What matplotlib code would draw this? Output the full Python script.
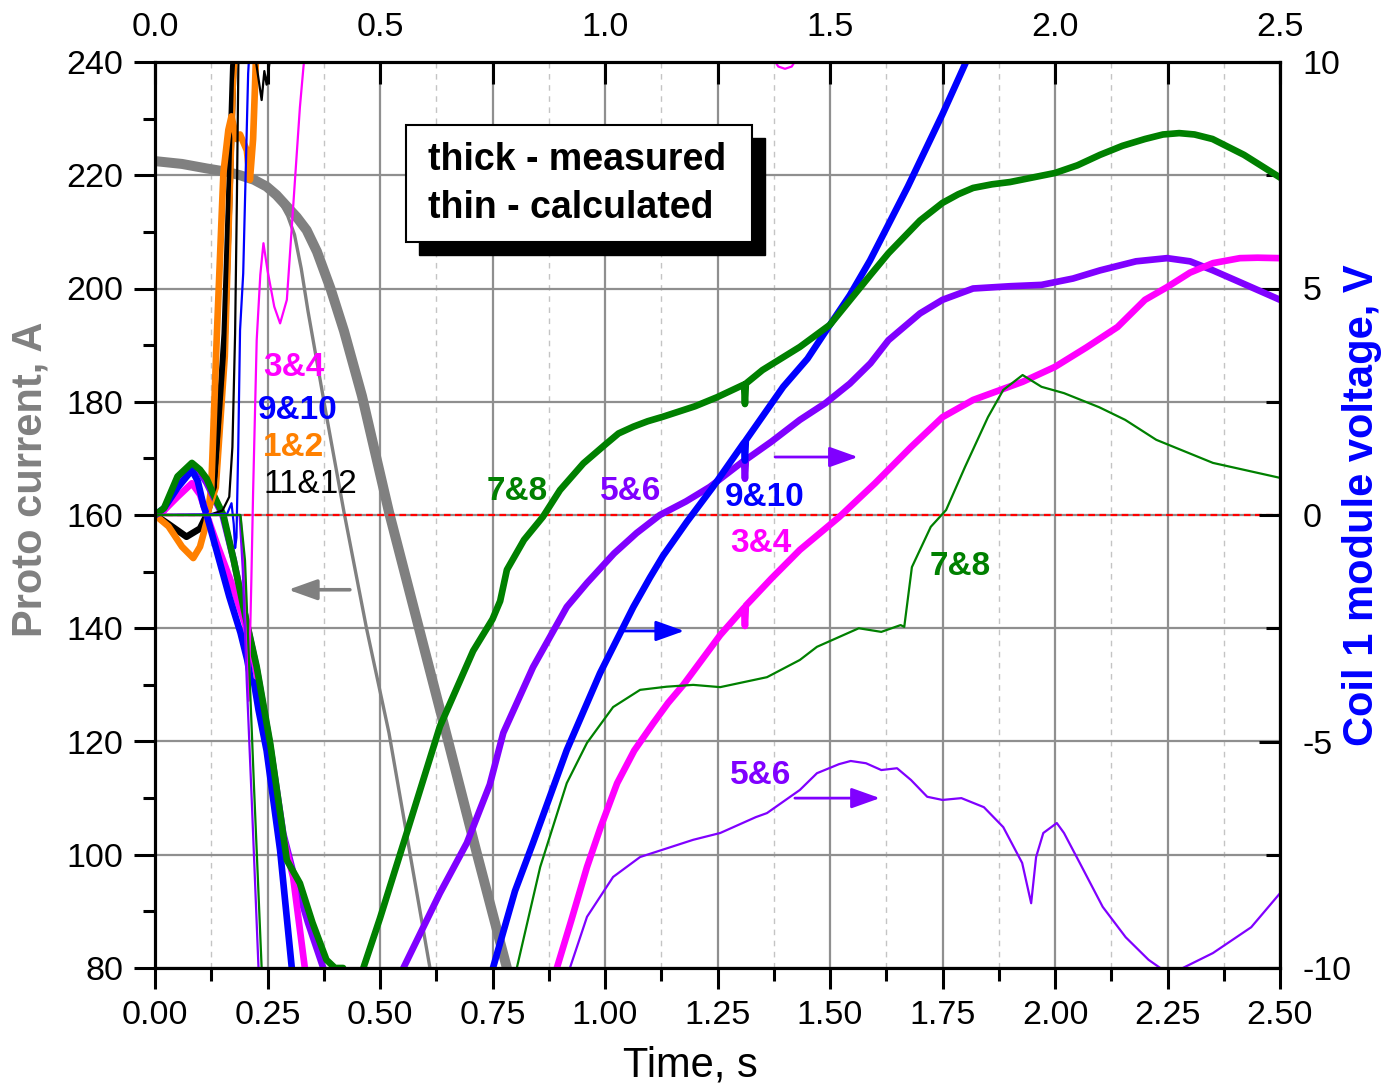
import matplotlib
matplotlib.use('Agg')
import matplotlib.pyplot as plt
from matplotlib.ticker import MultipleLocator, FormatStrFormatter
from matplotlib.patches import Rectangle

plt.rcParams['font.family'] = ['Liberation Sans', 'DejaVu Sans']
plt.rcParams['axes.unicode_minus'] = False

# proto current, A (left axis)
t_cur_meas = [0.0, 0.06, 0.115, 0.16, 0.189, 0.22, 0.248, 0.27, 0.293, 0.315, 0.337, 0.36, 0.39, 0.42,
              0.46, 0.52, 0.585, 0.65, 0.716, 0.782, 0.8]
cur_meas = [222.5, 222.0, 221.2, 220.6, 220.0, 219.2, 218.0, 216.5, 214.5, 212.6, 210.3, 206.5, 200.0, 192.5,
            181.0, 160.5, 140.5, 120.5, 100.0, 80.0, 74.0]
t_cur_calc = [0.0, 0.1, 0.2, 0.25, 0.28, 0.295, 0.31, 0.325, 0.34, 0.38, 0.42, 0.47, 0.52, 0.566, 0.611, 0.63]
cur_calc = [222.5, 221.4, 219.7, 217.8, 215.0, 212.8, 209.5, 203.5, 196.0, 178.0, 160.5, 140.0, 121.5, 100.5,
            80.0, 72.0]

# coil 1 module voltages, V (right axis) - measured
t_v12_meas = [0.0, 0.03, 0.06, 0.085, 0.1, 0.115, 0.125, 0.137, 0.152, 0.163, 0.17, 0.181, 0.189, 0.204,
              0.211, 0.218, 0.222, 0.226]
v12_meas = [0.0, -0.25, -0.7, -0.95, -0.7, -0.15, 0.6, 3.86, 7.55, 8.5, 8.8, 8.3, 8.4, 8.05,
            7.4, 8.3, 9.4, 10.6]

t_v1112_meas = [0.0, 0.03, 0.07, 0.1, 0.115, 0.13, 0.145, 0.155, 0.165, 0.174, 0.18]
v1112_meas = [0.0, -0.2, -0.48, -0.3, 0.0, 0.5, 2.5, 4.0, 7.0, 9.9, 10.6]

t_v34_meas = [0.0, 0.02, 0.05, 0.082, 0.1, 0.115, 0.14, 0.17, 0.2, 0.23, 0.26, 0.28, 0.307, 0.333, 0.35,
              0.87, 0.893, 0.925, 0.96, 0.99, 1.027, 1.065, 1.107, 1.14, 1.174, 1.215, 1.256, 1.309, 1.311,
              1.313, 1.37, 1.433, 1.521, 1.6, 1.68, 1.75, 1.818, 1.928, 2.0, 2.07, 2.139, 2.2, 2.249,
              2.3, 2.351, 2.411, 2.45, 2.5]
v34_meas = [0.0, 0.1, 0.4, 0.7, 0.45, 0.0, -0.7, -1.5, -2.4, -3.7, -5.4, -6.9, -8.0, -10.0, -10.8,
            -10.6, -10.0, -8.95, -7.77, -6.9, -5.92, -5.2, -4.6, -4.15, -3.75, -3.2, -2.65, -2.05, -2.45,
            -2.0, -1.4, -0.77, -0.04, 0.7, 1.5, 2.16, 2.54, 2.94, 3.27, 3.7, 4.15, 4.75, 5.03,
            5.35, 5.56, 5.67, 5.68, 5.67]

t_v910_meas = [0.0, 0.02, 0.05, 0.082, 0.095, 0.108, 0.115, 0.14, 0.165, 0.19, 0.205, 0.213, 0.22, 0.23,
               0.248, 0.278, 0.304, 0.32, 0.735, 0.751, 0.8, 0.84, 0.915, 0.989, 1.063, 1.1, 1.129, 1.182,
               1.24, 1.309, 1.311, 1.313, 1.396, 1.45, 1.5, 1.544, 1.589, 1.673, 1.75, 1.8, 1.82]
v910_meas = [0.0, 0.15, 0.6, 0.99, 0.75, 0.2, 0.0, -0.9, -1.8, -2.6, -3.2, -3.65, -3.7, -4.3,
             -5.2, -7.4, -10.0, -10.8, -10.6, -10.0, -8.3, -7.24, -5.19, -3.49, -2.03, -1.38, -0.9, -0.15,
             0.62, 1.6, 1.2, 1.65, 2.83, 3.45, 4.2, 4.85, 5.62, 7.25, 8.85, 9.95, 10.4]

t_v56_meas = [0.0, 0.02, 0.05, 0.082, 0.1, 0.115, 0.13, 0.15, 0.175, 0.2, 0.226, 0.256, 0.285, 0.31, 0.34,
              0.374, 0.39, 0.53, 0.552, 0.633, 0.693, 0.744, 0.774, 0.84, 0.915, 0.96, 1.02, 1.07, 1.122,
              1.18, 1.233, 1.309, 1.311, 1.313, 1.37, 1.433, 1.49, 1.544, 1.59, 1.63, 1.7, 1.75, 1.818,
              1.9, 1.97, 2.04, 2.1, 2.18, 2.249, 2.3, 2.351, 2.42, 2.5]
v56_meas = [0.0, 0.1, 0.75, 1.1, 0.95, 0.7, 0.4, 0.0, -1.0, -2.2, -3.4, -5.1, -7.03, -8.0, -9.0,
            -10.0, -10.6, -10.6, -10.0, -8.35, -7.24, -5.95, -4.81, -3.36, -2.03, -1.5, -0.85, -0.4, 0.0,
            0.3, 0.62, 1.2, 0.8, 1.22, 1.62, 2.1, 2.47, 2.9, 3.35, 3.86, 4.45, 4.75, 5.0,
            5.05, 5.08, 5.22, 5.4, 5.6, 5.67, 5.6, 5.4, 5.1, 4.75]

t_v78_meas = [0.0, 0.02, 0.05, 0.082, 0.1, 0.115, 0.13, 0.152, 0.175, 0.2, 0.226, 0.256, 0.293, 0.322, 0.35,
              0.381, 0.4, 0.418, 0.44, 0.463, 0.5, 0.56, 0.633, 0.707, 0.75, 0.767, 0.782, 0.82, 0.862, 0.9,
              0.952, 1.0, 1.03, 1.063, 1.095, 1.129, 1.2, 1.249, 1.309, 1.311, 1.313, 1.35, 1.433, 1.5,
              1.545, 1.59, 1.63, 1.7, 1.75, 1.785, 1.818, 1.86, 1.9, 2.0, 2.05, 2.1, 2.15, 2.2, 2.24,
              2.276, 2.31, 2.35, 2.42, 2.46, 2.5]
v78_meas = [0.0, 0.15, 0.85, 1.15, 1.0, 0.8, 0.45, 0.0, -1.0, -2.2, -3.35, -5.04, -7.62, -8.13, -9.0,
            -9.82, -10.0, -10.0, -10.6, -10.0, -8.9, -7.0, -4.67, -3.0, -2.3, -1.9, -1.21, -0.55, -0.04, 0.55,
            1.14, 1.55, 1.8, 1.95, 2.07, 2.17, 2.4, 2.6, 2.88, 2.45, 2.9, 3.2, 3.71, 4.2,
            4.75, 5.3, 5.78, 6.5, 6.89, 7.08, 7.22, 7.3, 7.35, 7.55, 7.72, 7.95, 8.15, 8.3, 8.4,
            8.43, 8.4, 8.3, 7.95, 7.7, 7.45]

# coil 1 module voltages, V - calculated
t_v12_calc = [0.0, 0.12, 0.14, 0.16, 0.172, 0.178, 0.185]
v12_calc = [0.0, 0.0, 0.6, 3.5, 7.5, 9.6, 10.6]

t_v1112_calc = [0.0, 0.12, 0.15, 0.165, 0.172, 0.178, 0.182, 0.186, 0.2, 0.22, 0.226, 0.237, 0.243, 0.248,
                0.256, 0.27]
v1112_calc = [0.0, 0.0, 0.1, 0.4, 1.5, 4.0, 7.0, 10.6, 10.8, 10.3, 9.9, 9.16, 9.8, 9.5,
              10.1, 10.8]

t_v910_calc = [0.0, 0.16, 0.17, 0.175, 0.178, 0.181, 0.185, 0.189, 0.196, 0.207, 0.212]
v910_calc = [0.0, 0.02, 0.26, -0.2, -0.73, -0.5, 1.5, 4.08, 5.33, 9.75, 10.6]

t_v34_calc = [0.0, 0.19, 0.2, 0.208, 0.214, 0.218, 0.226, 0.234, 0.241, 0.25, 0.265, 0.278, 0.293, 0.307,
              0.322, 0.33, 0.34, 1.36, 1.385, 1.4, 1.415, 1.44]
v34_calc = [0.0, 0.0, -1.5, -4.1, -1.5, 0.5, 3.86, 5.3, 6.0, 5.4, 4.6, 4.23, 4.75, 6.8,
            9.0, 9.9, 10.8, 10.3, 9.9, 9.85, 9.9, 10.3]

t_v56_calc = [0.0, 0.188, 0.195, 0.204, 0.215, 0.23, 0.24, 0.9, 0.922, 0.96, 1.018, 1.078, 1.196, 1.256,
              1.335, 1.36, 1.433, 1.471, 1.52, 1.546, 1.58, 1.614, 1.649, 1.68, 1.716, 1.75, 1.792, 1.842,
              1.885, 1.927, 1.947, 1.958, 1.974, 2.004, 2.02, 2.055, 2.106, 2.157, 2.208, 2.241, 2.265,
              2.284, 2.351, 2.436, 2.5]
v56_calc = [0.0, 0.0, -1.2, -3.7, -6.3, -10.0, -11.0, -11.0, -10.0, -8.87, -7.99, -7.55, -7.17, -7.02,
            -6.67, -6.58, -6.07, -5.7, -5.5, -5.43, -5.48, -5.63, -5.59, -5.85, -6.22, -6.29, -6.25, -6.45,
            -6.89, -7.68, -8.57, -7.55, -7.02, -6.8, -7.02, -7.68, -8.65, -9.32, -9.82, -10.05, -10.05,
            -10.0, -9.67, -9.1, -8.35]

t_v78_calc = [0.0, 0.19, 0.2, 0.21, 0.22, 0.237, 0.25, 0.78, 0.804, 0.856, 0.915, 0.96, 1.018, 1.078, 1.137,
              1.196, 1.256, 1.36, 1.433, 1.471, 1.564, 1.614, 1.657, 1.665, 1.682, 1.724, 1.758, 1.8, 1.851,
              1.885, 1.928, 1.97, 2.02, 2.098, 2.156, 2.225, 2.351, 2.5]
v78_calc = [0.0, 0.0, -1.0, -3.5, -6.0, -10.0, -11.0, -11.0, -10.0, -7.77, -5.92, -5.03, -4.24, -3.86, -3.79,
            -3.75, -3.8, -3.58, -3.2, -2.91, -2.5, -2.58, -2.43, -2.47, -1.15, -0.26, 0.11, 1.06, 2.16,
            2.76, 3.09, 2.83, 2.69, 2.38, 2.1, 1.66, 1.15, 0.82]

GRAY = '#808080'
GREEN = '#008000'
PURPLE = '#8000ff'
BLUE = '#0000ff'
MAGENTA = '#ff00ff'
ORANGE = '#ff8000'
BLACK = '#000000'

W, H = 1385, 1090
fig = plt.figure(figsize=(W / 100, H / 100), dpi=100)
ax = fig.add_axes([155 / W, 1 - 968 / H, 1125 / W, 906 / H])
ax2 = ax.twinx()
ax3 = ax.twiny()

# current traces
ax.plot(t_cur_meas, cur_meas, color=GRAY, lw=7.2, solid_capstyle='butt')
ax.plot(t_cur_calc, cur_calc, color=GRAY, lw=2.4)

ax.set_xlim(0, 2.5)
ax3.set_xlim(0, 2.5)
ax.set_ylim(80, 240)
ax2.set_ylim(-10, 10)

# grid
ax.xaxis.set_major_locator(MultipleLocator(0.25))
ax.xaxis.set_minor_locator(MultipleLocator(0.125))
ax.yaxis.set_major_locator(MultipleLocator(20))
ax.yaxis.set_minor_locator(MultipleLocator(10))
ax.xaxis.set_major_formatter(FormatStrFormatter('%.2f'))
ax.grid(which='major', axis='both', color='#8f8f8f', lw=1.6)
ax.grid(which='minor', axis='x', color='#c4c4c4', lw=1.0, ls=(0, (4, 4)))
ax.set_axisbelow(True)

# voltage traces: thick - measured, thin - calculated
thick = [(t_v1112_meas, v1112_meas, BLACK), (t_v12_meas, v12_meas, ORANGE),
         (t_v56_meas, v56_meas, PURPLE), (t_v34_meas, v34_meas, MAGENTA),
         (t_v910_meas, v910_meas, BLUE), (t_v78_meas, v78_meas, GREEN)]
thin = [(t_v1112_calc, v1112_calc, BLACK), (t_v12_calc, v12_calc, ORANGE),
        (t_v910_calc, v910_calc, BLUE), (t_v34_calc, v34_calc, MAGENTA),
        (t_v56_calc, v56_calc, PURPLE), (t_v78_calc, v78_calc, GREEN)]
for t, v, c in thick:
    ax2.plot(t, v, color=c, lw=4.8)
for t, v, c in thin:
    ax2.plot(t, v, color=c, lw=1.6)

ax2.axhline(0, color='red', lw=1.6, ls=(0, (3, 2)), zorder=1)

# ticks
for a in (ax, ax2, ax3):
    for s in a.spines.values():
        s.set_linewidth(2.2)
ax.tick_params(which='major', direction='out', length=15, width=2.2, labelsize=24.5, pad=8)
ax.tick_params(which='minor', direction='out', length=9, width=2.2)

ax2.yaxis.set_major_locator(MultipleLocator(5))
ax2.yaxis.set_minor_locator(MultipleLocator(2.5))
ax2.yaxis.set_major_formatter(FormatStrFormatter('%g'))
ax2.tick_params(which='major', direction='in', length=15, width=2.2, labelsize=24.5, pad=16)
ax2.tick_params(which='minor', direction='in', length=10, width=2.2)

ax3.xaxis.set_major_locator(MultipleLocator(0.5))
ax3.xaxis.set_minor_locator(MultipleLocator(0.25))
ax3.xaxis.set_major_formatter(FormatStrFormatter('%.1f'))
ax3.tick_params(which='major', direction='in', length=16, width=2.2, labelsize=24.5, pad=14)
ax3.tick_params(which='minor', direction='in', length=16, width=2.2)

# axis titles
fig.text(31 / W, 1 - 479 / H, 'Proto current, A', rotation=90, ha='center', va='center',
         fontsize=30, fontweight='bold', color=GRAY)
fig.text(1362 / W, 1 - 505 / H, 'Coil 1 module voltage, V', rotation=90, ha='center', va='center',
         fontsize=30, fontweight='bold', color=BLUE)
fig.text(690 / W, 1 - 1066 / H, 'Time, s', ha='center', va='center', fontsize=30)

# curve labels
lab = dict(fontsize=24, fontweight='bold', ha='left', va='center')
ax2.text(0.240, 3.25, '3&4', color=MAGENTA, **lab)
ax2.text(0.229, 2.30, '9&10', color=BLUE, **lab)
ax2.text(0.240, 1.50, '1&2', color=ORANGE, **lab)
ax2.text(0.240, 0.68, '11&12', color=BLACK, fontsize=24, ha='left', va='center')
ax2.text(0.738, 0.51, '7&8', color=GREEN, **lab)
ax2.text(0.989, 0.51, '5&6', color=PURPLE, **lab)
ax2.text(1.267, 0.38, '9&10', color=BLUE, **lab)
ax2.text(1.278, -0.62, '3&4', color=MAGENTA, **lab)
ax2.text(1.722, -1.13, '7&8', color=GREEN, **lab)
ax2.text(1.278, -5.76, '5&6', color=PURPLE, **lab)

# axis-direction arrows
arr = '-|>,head_length=0.7,head_width=0.25'
ax.annotate('', xy=(0.296, 146.8), xytext=(0.433, 146.8),
            arrowprops=dict(arrowstyle=arr, color=GRAY, lw=2.6, mutation_scale=25, shrinkA=0, shrinkB=0))
ax2.annotate('', xy=(1.176, -2.56), xytext=(1.040, -2.56),
             arrowprops=dict(arrowstyle=arr, color=BLUE, lw=2, mutation_scale=25, shrinkA=0, shrinkB=0))
ax2.annotate('', xy=(1.562, 1.28), xytext=(1.378, 1.28),
             arrowprops=dict(arrowstyle=arr, color=PURPLE, lw=2, mutation_scale=25, shrinkA=0, shrinkB=0))
ax2.annotate('', xy=(1.611, -6.25), xytext=(1.422, -6.25),
             arrowprops=dict(arrowstyle=arr, color=PURPLE, lw=2, mutation_scale=25, shrinkA=0, shrinkB=0))

# note box with drop shadow
bx0, bx1 = (406 - 155) / 1125, (752 - 155) / 1125
by0, by1 = (968 - 242) / 906, (968 - 125) / 906
dx, dy = 13 / 1125, 13 / 906
ax2.add_patch(Rectangle((bx0 + dx, by0 - dy), bx1 - bx0, by1 - by0, transform=ax2.transAxes,
                        facecolor='black', edgecolor='black', zorder=10, clip_on=False))
ax2.add_patch(Rectangle((bx0, by0), bx1 - bx0, by1 - by0, transform=ax2.transAxes,
                        facecolor='white', edgecolor='black', lw=1.5, zorder=11, clip_on=False))
ax2.text((428 - 155) / 1125, (968 - 160) / 906, 'thick - measured', transform=ax2.transAxes,
         fontsize=27, fontweight='bold', ha='left', va='center', zorder=12)
ax2.text((428 - 155) / 1125, (968 - 208) / 906, 'thin - calculated', transform=ax2.transAxes,
         fontsize=27, fontweight='bold', ha='left', va='center', zorder=12)

fig.savefig('out.png', dpi=100)
